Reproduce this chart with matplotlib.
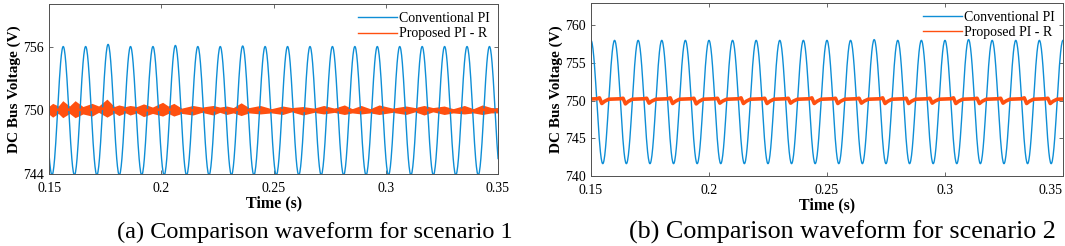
import numpy as np
import matplotlib.pyplot as plt

plt.rcParams['font.family'] = ['Liberation Serif', 'DejaVu Serif']

# ---- data ----
# scenario 1: conventional PI, extrema of the 100 Hz ripple
peak_t_a = [0.1462, 0.1562, 0.1662, 0.1762, 0.1862, 0.1962, 0.2062, 0.2162, 0.2262, 0.2362, 0.2462,
            0.2562, 0.2662, 0.2762, 0.2862, 0.2962, 0.3062, 0.3162, 0.3262, 0.3362, 0.3462]
peak_v_a = [756.0, 756.0, 756.0, 756.2, 756.0, 756.0, 756.1, 756.0, 756.0, 756.05, 756.0,
            756.0, 756.0, 756.0, 756.0, 756.0, 756.0, 756.0, 756.0, 756.0, 756.0]
trough_t_a = [0.1512, 0.1612, 0.1712, 0.1812, 0.1912, 0.2012, 0.2112, 0.2212, 0.2312, 0.2412, 0.2512,
              0.2612, 0.2712, 0.2812, 0.2912, 0.3012, 0.3112, 0.3212, 0.3312, 0.3412, 0.3512]
trough_v_a = [743.9] * 21

# scenario 1: proposed PI-R, band centre and half width
prop_t_a = [0.150, 0.1515, 0.154, 0.156, 0.159, 0.1615, 0.165, 0.169, 0.172, 0.1757, 0.179, 0.181,
            0.184, 0.186, 0.189, 0.192, 0.196, 0.2005, 0.203, 0.2055, 0.209, 0.214, 0.218, 0.223,
            0.226, 0.229, 0.232, 0.2355, 0.239, 0.244, 0.249, 0.254, 0.258, 0.263, 0.268, 0.2723,
            0.277, 0.2815, 0.285, 0.289, 0.293, 0.297, 0.303, 0.309, 0.313, 0.317, 0.321, 0.326,
            0.330, 0.335, 0.339, 0.343, 0.347, 0.350]
prop_c_a = [750.0, 750.0, 750.05, 750.1, 750.05, 750.1, 750.0, 750.05, 750.1, 750.2, 750.05, 750.0,
            750.05, 750.0, 750.05, 750.0, 750.0, 750.1, 750.05, 750.05, 749.95, 750.0, 750.05, 750.0,
            750.05, 750.0, 750.0, 750.1, 750.0, 750.05, 749.95, 750.0, 750.05, 749.95, 750.0, 750.05,
            750.0, 750.05, 749.95, 750.05, 749.95, 750.05, 750.0, 750.0, 750.05, 750.0, 750.05, 750.0,
            749.95, 750.05, 749.95, 750.05, 750.0, 750.0]
prop_w_a = [0.4, 0.65, 0.35, 0.8, 0.35, 0.8, 0.35, 0.6, 0.3, 0.85, 0.3, 0.5,
            0.3, 0.45, 0.3, 0.6, 0.3, 0.65, 0.35, 0.6, 0.25, 0.45, 0.25, 0.45,
            0.25, 0.4, 0.25, 0.6, 0.25, 0.4, 0.2, 0.4, 0.2, 0.4, 0.2, 0.4,
            0.2, 0.45, 0.2, 0.4, 0.2, 0.45, 0.2, 0.4, 0.2, 0.45, 0.2, 0.4,
            0.2, 0.4, 0.2, 0.45, 0.25, 0.25]

# scenario 2: conventional PI
peak_t_b = [0.15, 0.16, 0.17, 0.18, 0.19, 0.20, 0.21, 0.22, 0.23, 0.24, 0.25,
            0.26, 0.27, 0.28, 0.29, 0.30, 0.31, 0.32, 0.33, 0.34, 0.35]
peak_v_b = [758.0, 758.0, 758.0, 758.0, 758.0, 758.0, 758.0, 758.0, 758.0, 758.0, 758.0,
            758.0, 758.1, 758.0, 758.0, 758.0, 758.1, 758.0, 758.0, 758.0, 758.0]
trough_t_b = [0.145, 0.155, 0.165, 0.175, 0.185, 0.195, 0.205, 0.215, 0.225, 0.235, 0.245,
              0.255, 0.265, 0.275, 0.285, 0.295, 0.305, 0.315, 0.325, 0.335, 0.345]
trough_v_b = [741.6] * 21

# scenario 2: proposed PI-R, one notch per ripple cycle
cycle_t_b = peak_t_b[:-1]
level_b = [750.2] * 20
bump_b = [750.35, 750.3, 750.3, 750.35, 750.3, 750.3, 750.35, 750.3, 750.3, 750.35,
          750.3, 750.3, 750.35, 750.3, 750.3, 750.35, 750.3, 750.3, 750.35, 750.3]
dip_b = [749.6, 749.55, 749.65, 749.6, 749.55, 749.65, 749.6, 749.6, 749.65, 749.6,
         749.6, 749.65, 749.6, 749.6, 749.65, 749.6, 749.6, 749.65, 749.6, 749.6]


def ripple(pt, pv, tt, tv, n=30):
    ext = sorted(zip(pt + tt, pv + tv))
    t_out, v_out = [], []
    for (t0, v0), (t1, v1) in zip(ext[:-1], ext[1:]):
        s = np.linspace(0, 1, n, endpoint=False)
        t_out.append(t0 + s * (t1 - t0))
        v_out.append(v0 + (v1 - v0) * (1 - np.cos(np.pi * s)) / 2)
    t_out.append([ext[-1][0]])
    v_out.append([ext[-1][1]])
    return np.concatenate(t_out), np.concatenate(v_out)


def notches(ct, lev, bump, dip):
    t_out, v_out = [], []
    for t0, l, b, d in zip(ct, lev, bump, dip):
        t_out += [t0, t0 + 0.0025, t0 + 0.0036, t0 + 0.0046, t0 + 0.0058, t0 + 0.0075]
        v_out += [l, l + 0.03, b, d, (d + l) / 2, l - 0.03]
    t_out.append(0.35)
    v_out.append(lev[-1])
    return t_out, v_out


blue = '#0E8ED6'
orange = '#FF5010'
spine = '#505050'

fig = plt.figure(figsize=(10.65, 2.46), dpi=100)
ax1 = fig.add_axes([0.0463, 0.2927, 0.4213, 0.691])
ax2 = fig.add_axes([0.5549, 0.2858, 0.4432, 0.703])

# (a)
t, v = ripple(peak_t_a, peak_v_a, trough_t_a, trough_v_a)
ax1.plot(t, v, color=blue, lw=1.0, label='Conventional PI')
ax1.fill_between(prop_t_a, np.array(prop_c_a) - np.array(prop_w_a),
                 np.array(prop_c_a) + np.array(prop_w_a), color=orange, lw=0)
ax1.plot(prop_t_a, prop_c_a, color=orange, lw=2.0, label='Proposed PI - R')
ax1.set_xlim(0.15, 0.35)
ax1.set_ylim(744, 760)
ax1.set_yticks([744, 750, 756])

# (b)
t, v = ripple(peak_t_b, peak_v_b, trough_t_b, trough_v_b)
ax2.plot(t, v, color=blue, lw=1.0, label='Conventional PI')
tn, vn = notches(cycle_t_b, level_b, bump_b, dip_b)
ax2.plot(tn, vn, color=orange, lw=2.6, label='Proposed PI - R')
ax2.set_xlim(0.15, 0.35)
ax2.set_ylim(740, 763)
ax2.set_yticks([740, 745, 750, 755, 760])

for ax in (ax1, ax2):
    ax.set_xticks([0.15, 0.2, 0.25, 0.3, 0.35])
    ax.set_xticklabels(['0.15', '0.2', '0.25', '0.3', '0.35'])
    ax.tick_params(direction='in', top=True, right=True, length=3, width=0.6,
                   labelsize=10, color=spine)
    ax.tick_params(axis='x', pad=6)
    ax.tick_params(axis='y', pad=4)
    for s in ax.spines.values():
        s.set_color(spine)
        s.set_linewidth(0.7)
    ax.set_xlabel('Time (s)', fontsize=11.5, fontweight='bold', labelpad=0)
    ax.set_ylabel('DC Bus Voltage (V)', fontsize=11, fontweight='bold', labelpad=1)
    leg = ax.legend(loc='upper right', frameon=False, fontsize=10, handlelength=2.8,
                    handletextpad=0.15, borderaxespad=0.2, labelspacing=0.15)
    for line in leg.get_lines():
        line.set_linewidth(1.0)

ax2.get_xticklabels()[-1].set_horizontalalignment('right')

fig.text(0.296, 0.057, '(a) Comparison waveform for scenario 1', fontsize=17.5,
         ha='center', va='center')
fig.text(0.791, 0.057, '(b) Comparison waveform for scenario 2', fontsize=18.8,
         ha='center', va='center')

fig.savefig('out.png', dpi=100)
